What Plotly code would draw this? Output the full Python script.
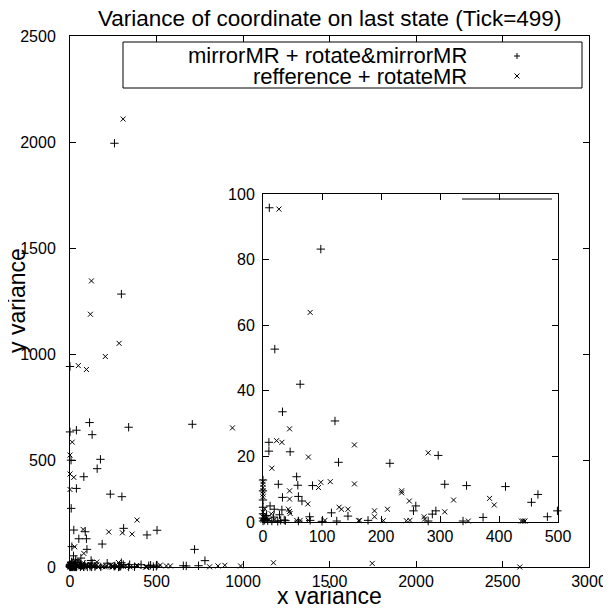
import plotly.graph_objects as go

# ---------------- data ----------------
series_names = ["mirrorMR + rotate&mirrorMR", "refference + rotateMR"]

plus_x = [257, 297, 113, 37, 0, 128, 339, 707, 6, 176, 157, 80, 37, 233, 300, 7,
          22, 88, 310, 445, 503, 51, 95, 186, 0, 720, 780, 655, 672, 743, 503,
          10.7, 98, 20, 63, 33, 122, 10, 46, 10, 128, 215, 57, 26, 59, 84, 60,
          66, 33, 12, 19, 32, 116, 144, 79, 297, 308, 345, 411, 466, 259, 255,
          287, 293, 373, 482, 499, 455,
          0, 2, 5, 8, 15, 25, 30, 38, 60, 80, 100, 125, 178, 280, 339,
          0, 0, 0, 0, 0, 0, 3, 6, 18, 28, 36]
plus_y = [1995, 1285, 680, 644, 636, 623, 658, 672, 503, 507, 463, 425, 370, 343, 331, 276,
          174, 166, 182, 151, 173, 133, 133, 108, 944, 83, 30, 6, 5, 6, 9,
          95.8, 83.2, 52.7, 42, 33.6, 30.8, 24.3, 21.4, 21.6, 18.2, 17.9, 13.8, 11.5, 11.2, 11.1, 7.8,
          6.4, 7.5, 4.9, 3.9, 3.7, 2.8, 1.8, 1.6, 20.3, 11.5, 11.1, 10.8, 8.4, 4.9, 3.4,
          2.4, 3.4, 1.4, 1.6, 3.4, 6,
          0.3, 0.5, 1.0, 0.4, 0.3, 0.2, 0.5, 0.4, 0.3, 0.5, 0.2, 0.3, 0.5, 0.3, 0.3,
          12.8, 9.5, 6.7, 4.5, 2.5, 1.2, 0.8, 2.0, 1.5, 2.2, 0.6]

cross_x = [307, 124, 118, 284, 204, 48, 95, 939, 13, 0, 0, 22, 0, 388, 76, 224, 303, 359,
           1176, 1747, 2600, 807, 855, 895, 986, 522, 557, 580,
           27, 80, 45, 23, 32, 155, 77, 15, 98, 94, 114, 155, 0, 0, 0, 0, 0, 0,
           45, 45, 76, 235, 235, 248, 43, 45, 46, 129, 133, 144, 189, 189, 211,
           57, 63, 77, 105, 162, 164, 204, 243, 249, 280, 323, 384, 392, 308, 273, 274,
           348, 438, 441, 444, 0, 0, 0, 2, 5, 10, 20, 3, 14]
cross_y = [2109, 1347, 1190, 1053, 991, 948, 930, 655, 588, 527, 438, 422, 365, 221, 177, 165, 161, 155,
           20, 17, 0, 1, 5, 8, 5, 9, 5, 5,
           95.4, 63.9, 28.4, 24.8, 24.3, 23.5, 19.8, 16.4, 12.1, 10.5, 12.3, 11.6, 12.3, 11.5, 10.5, 9.5, 8.5, 7.7,
           9.5, 7.0, 5.5, 9.5, 8.9, 6.4, 3.9, 3.2, 2.6, 4.5, 3.9, 3.9, 3.4, 1.6, 3.9,
           0.5, 0.5, 0.5, 0.5, 0.4, 0.5, 0.4, 0.4, 0.5, 21.1, 6.7, 7.2, 5.2, 3.1, 1.6, 0.9,
           0.3, 0.3, 0.3, 0.3, 3.0, 1.5, 0.5, 2.0, 1.0, 0.6, 0.8, 4.0, 2.5]

main_xticks = [0, 500, 1000, 1500, 2000, 2500, 3000]
main_yticks = [0, 500, 1000, 1500, 2000, 2500]
inset_xticks = [0, 100, 200, 300, 400, 500]
inset_yticks = [0, 20, 40, 60, 80, 100]

title_text = "Variance of coordinate on last state (Tick=499)"
x_title = "x variance"
y_title = "y variance"

# ---------------- figure ----------------
FONT = "Liberation Sans, Arial, Helvetica, sans-serif"
OFF = 8                      # page body margin of the html page
PAGE_W, PAGE_H = 611, 608
W, H = PAGE_W - OFF, PAGE_H - OFF
# plot area in page pixels
PX0, PX1, PY0, PY1 = 70, 589, 36, 567
L, R = PX0 - OFF, W - (PX1 - OFF)
T, B = PY0 - OFF, H - (PY1 - OFF)
PW, PH = PX1 - PX0, PY1 - PY0


def px_to_paper_x(px):
    return (px - PX0) / PW


def py_to_paper_y(py):
    return (PY1 - py) / PH


plus_marker = dict(symbol="cross-thin", size=6, color="black", line=dict(color="black", width=1))
cross_marker = dict(symbol="x-thin", size=5, color="black", line=dict(color="black", width=1))

fig = go.Figure()

# main panel
fig.add_trace(go.Scatter(x=plus_x, y=plus_y, mode="markers", marker=plus_marker,
                         name=series_names[0], cliponaxis=False, xaxis="x", yaxis="y"))
fig.add_trace(go.Scatter(x=cross_x, y=cross_y, mode="markers", marker=cross_marker,
                         name=series_names[1], cliponaxis=False, xaxis="x", yaxis="y"))

# inset panel: same data, restricted to its range
ix_max, iy_max = inset_xticks[-1], inset_yticks[-1]
pi = [(a, b) for a, b in zip(plus_x, plus_y) if a <= ix_max and b <= iy_max]
ci = [(a, b) for a, b in zip(cross_x, cross_y) if a <= ix_max and b <= iy_max]
fig.add_trace(go.Scatter(x=[p[0] for p in pi], y=[p[1] for p in pi], mode="markers",
                         marker=plus_marker, cliponaxis=False, showlegend=False,
                         xaxis="x2", yaxis="y2"))
fig.add_trace(go.Scatter(x=[p[0] for p in ci], y=[p[1] for p in ci], mode="markers",
                         marker=cross_marker, cliponaxis=False, showlegend=False,
                         xaxis="x2", yaxis="y2"))

axis_common = dict(showgrid=False, zeroline=False, showline=True, linecolor="black",
                   linewidth=1, ticks="inside", ticklen=6, tickcolor="black", tickwidth=1,
                   mirror="ticks", tickfont=dict(family=FONT, size=16, color="black"))

inset_x0, inset_x1 = px_to_paper_x(263), px_to_paper_x(558)
inset_y0, inset_y1 = py_to_paper_y(522), py_to_paper_y(194)

fig.update_layout(
    width=W, height=H,
    margin=dict(l=L, r=R, t=T, b=B, autoexpand=False),
    paper_bgcolor="white", plot_bgcolor="white",
    showlegend=False,
    xaxis=dict(range=[0, 3000], tickvals=main_xticks, domain=[0, 1], anchor="y", **axis_common),
    yaxis=dict(range=[0, 2500], tickvals=main_yticks, domain=[0, 1], anchor="x",
               ticklabelstandoff=10, **axis_common),
    xaxis2=dict(range=[0, 500], tickvals=inset_xticks, domain=[inset_x0, inset_x1],
                anchor="y2", **axis_common),
    yaxis2=dict(range=[0, 100], tickvals=inset_yticks, domain=[inset_y0, inset_y1],
                anchor="x2", ticklabelstandoff=4, **axis_common),
)

annotations = [
    dict(text=title_text, x=px_to_paper_x(329), y=py_to_paper_y(18), xref="paper", yref="paper",
         showarrow=False, xanchor="center", yanchor="middle",
         font=dict(family=FONT, size=22.5, color="black")),
    dict(text=x_title, x=px_to_paper_x(329), y=py_to_paper_y(596), xref="paper", yref="paper",
         showarrow=False, xanchor="center", yanchor="middle",
         font=dict(family=FONT, size=23, color="black")),
    dict(text=y_title, x=px_to_paper_x(17), y=py_to_paper_y(301), xref="paper", yref="paper",
         showarrow=False, xanchor="center", yanchor="middle", textangle=-90,
         font=dict(family=FONT, size=23, color="black")),
    # key
    dict(text=series_names[0], x=px_to_paper_x(469), y=py_to_paper_y(56), xref="paper", yref="paper",
         showarrow=False, xanchor="right", yanchor="middle",
         font=dict(family=FONT, size=22, color="black")),
    dict(text=series_names[1], x=px_to_paper_x(469), y=py_to_paper_y(76), xref="paper", yref="paper",
         showarrow=False, xanchor="right", yanchor="middle",
         font=dict(family=FONT, size=22, color="black")),
]
fig.update_layout(annotations=annotations)


def key_plus(cx, cy, s=3):
    return [dict(type="line", xref="paper", yref="paper",
                 x0=px_to_paper_x(cx - s), x1=px_to_paper_x(cx + s),
                 y0=py_to_paper_y(cy), y1=py_to_paper_y(cy),
                 line=dict(color="black", width=1), layer="above"),
            dict(type="line", xref="paper", yref="paper",
                 x0=px_to_paper_x(cx), x1=px_to_paper_x(cx),
                 y0=py_to_paper_y(cy - s), y1=py_to_paper_y(cy + s),
                 line=dict(color="black", width=1), layer="above")]


def key_cross(cx, cy, s=2.5):
    return [dict(type="line", xref="paper", yref="paper",
                 x0=px_to_paper_x(cx - s), x1=px_to_paper_x(cx + s),
                 y0=py_to_paper_y(cy - s), y1=py_to_paper_y(cy + s),
                 line=dict(color="black", width=1), layer="above"),
            dict(type="line", xref="paper", yref="paper",
                 x0=px_to_paper_x(cx - s), x1=px_to_paper_x(cx + s),
                 y0=py_to_paper_y(cy + s), y1=py_to_paper_y(cy - s),
                 line=dict(color="black", width=1), layer="above")]


shapes = [
    dict(type="rect", xref="paper", yref="paper",
         x0=px_to_paper_x(123), x1=px_to_paper_x(582),
         y0=py_to_paper_y(88), y1=py_to_paper_y(42),
         line=dict(color="black", width=1), fillcolor="rgba(0,0,0,0)", layer="above"),
    dict(type="line", xref="paper", yref="paper",
         x0=px_to_paper_x(462), x1=px_to_paper_x(552),
         y0=py_to_paper_y(199), y1=py_to_paper_y(199),
         line=dict(color="black", width=1), layer="above"),
]
shapes += key_plus(517, 56) + key_cross(517, 76)
fig.update_layout(shapes=shapes)

fig.write_html("out.html")
